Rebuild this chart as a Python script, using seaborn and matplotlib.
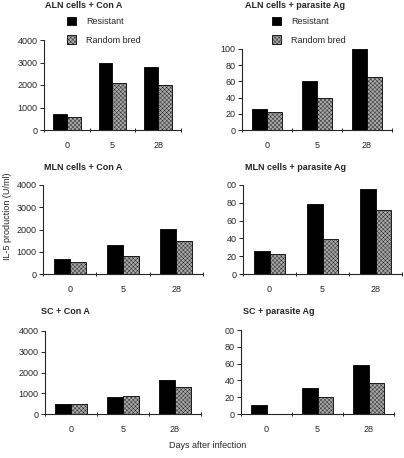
import matplotlib
matplotlib.use("Agg")
import matplotlib.pyplot as plt
from matplotlib.patches import Patch
import seaborn as sns
import pandas as pd

# values (IL-5 production, U/ml)
days = ["0", "5", "28"]
strains = ["Resistant", "Random bred"]

aln_cona_res = [730, 3000, 2780]
aln_cona_rb = [590, 2070, 1990]
aln_ag_res = [26, 61, 100]
aln_ag_rb = [22, 39, 66]
mln_cona_res = [690, 1300, 2030]
mln_cona_rb = [520, 820, 1490]
mln_ag_res = [25.6, 78.6, 95.9]
mln_ag_rb = [22.6, 39.5, 71.4]
sc_cona_res = [480, 800, 1620]
sc_cona_rb = [490, 880, 1320]
sc_ag_res = [10.3, 30.8, 58]
sc_ag_rb = [0, 20, 36.7]

titles = ["ALN cells + Con A", "ALN cells + parasite Ag",
          "MLN cells + Con A", "MLN cells + parasite Ag",
          "SC + Con A", "SC + parasite Ag"]

conA_ticks = [0, 1000, 2000, 3000, 4000]
ag_ticks = [0, 20, 40, 60, 80, 100]
ag_labels_full = ["0", "20", "40", "60", "80", "100"]
ag_labels_cut = ["0", "20", "40", "60", "80", "00"]

sns.set_style("ticks")
plt.rcParams["font.family"] = ["Liberation Sans", "DejaVu Sans"]
plt.rcParams["hatch.linewidth"] = 0.25
FS = 6.5
RB_FACE = "#a8a8a8"
RB_HATCH = "xxxxxxxx"

W, H = 404, 458
fig = plt.figure(figsize=(W / 100, H / 100), dpi=100)


def box(l, r, t, b):
    return [l / W, (H - b) / H, (r - l) / W, (b - t) / H]


# pixel boxes: left, right, top, bottom of each axes
boxes = [box(44, 181, 40, 130), box(242, 392, 49, 130),
         box(43, 203, 185, 274), box(243, 402, 185, 274),
         box(45, 201, 331, 414), box(241, 394, 330, 414)]
title_pos = [(45, 6), (245, 6), (44, 167), (245, 167), (41, 312), (243, 312)]

panels = [(aln_cona_res, aln_cona_rb), (aln_ag_res, aln_ag_rb),
          (mln_cona_res, mln_cona_rb), (mln_ag_res, mln_ag_rb),
          (sc_cona_res, sc_cona_rb), (sc_ag_res, sc_ag_rb)]

for i, (res, rb) in enumerate(panels):
    ax = fig.add_axes(boxes[i])
    df = pd.DataFrame({"day": days * 2,
                       "strain": [strains[0]] * 3 + [strains[1]] * 3,
                       "value": res + rb})
    sns.barplot(data=df, x="day", y="value", hue="strain", order=days,
                hue_order=strains, palette=["black", RB_FACE], width=0.6,
                edgecolor="black", linewidth=0.6, saturation=1,
                legend=False, ax=ax)
    for p in ax.containers[1]:
        p.set_hatch(RB_HATCH)
    sns.despine(ax=ax)
    ax.set_xlim(-0.5, 2.5)
    if i % 2 == 0:
        ax.set_ylim(0, 4000)
        ax.set_yticks(conA_ticks)
    else:
        ax.set_ylim(0, 100)
        ax.set_yticks(ag_ticks)
        ax.set_yticklabels(ag_labels_full if i == 1 else ag_labels_cut)
    ax.set_xticks([0, 1, 2])
    ax.set_xticklabels(days)
    ax.set_xticks([-0.5, 0.5, 1.5, 2.5], minor=True)
    ax.tick_params(axis="x", which="major", length=0, pad=8, labelsize=FS)
    ax.tick_params(axis="x", which="minor", length=3, width=0.7, direction="inout")
    ax.tick_params(axis="y", length=3, width=0.7, pad=1.5, labelsize=FS)
    ax.set_xlabel("")
    ax.set_ylabel("")
    for s in ["left", "bottom"]:
        ax.spines[s].set_linewidth(0.8)
    fig.text(title_pos[i][0] / W, 1 - title_pos[i][1] / H, titles[i],
             fontsize=FS, fontweight="bold", ha="left", va="center")

# legends in the two top panels
handles = [Patch(facecolor="black", edgecolor="black", linewidth=0.6),
           Patch(facecolor=RB_FACE, edgecolor="black", linewidth=0.6, hatch=RB_HATCH)]
for lx in [67, 272]:
    fig.legend(handles, strains, loc="upper left",
               bbox_to_anchor=(lx / W, 1 - 17 / H), frameon=False,
               fontsize=FS, handlelength=1.05, handleheight=1.05,
               handletextpad=1.1, labelspacing=1.0, borderpad=0,
               borderaxespad=0)

fig.text(208 / W, 1 - 445 / H, "Days after infection", fontsize=FS,
         ha="center", va="center")
fig.text(8 / W, 1 - 216 / H, "IL-5 production (U/ml)", fontsize=FS,
         ha="center", va="center", rotation=90)

fig.savefig("out.png", dpi=100)
